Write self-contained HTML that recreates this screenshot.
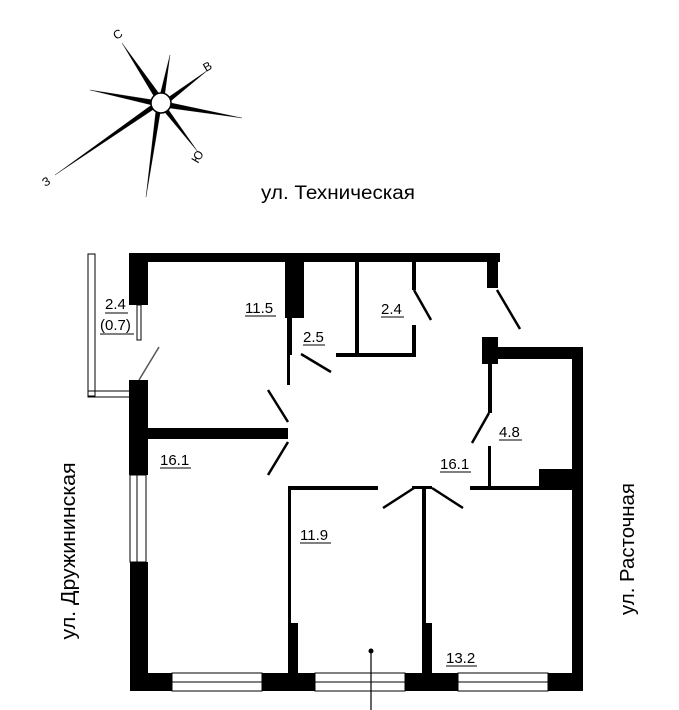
<!DOCTYPE html>
<html><head><meta charset="utf-8"><style>
html,body{margin:0;padding:0;background:#fff;}
svg{display:block;}
text{font-family:"Liberation Sans",sans-serif;fill:#000;}
</style></head><body>
<svg width="679" height="710" viewBox="0 0 679 710" xmlns="http://www.w3.org/2000/svg">
<!-- compass -->
<g fill="#000" stroke="#000" stroke-width="0.3">
<polygon points="122,43 163,99 158,103"/>
<polygon points="170,55 164,100 159,99"/>
<polygon points="208,70 163,101 166,105"/>
<polygon points="242,118 162,101 162,107"/>
<polygon points="198,152 158,104 163,102"/>
<polygon points="146,197 157,101 162,102"/>
<polygon points="55,175 157,101 160,105"/>
<polygon points="90,90 160,101 160,107"/>
</g>
<circle cx="161" cy="103" r="10" fill="#fff" stroke="#000" stroke-width="1.5"/>
<text x="116" y="40" font-size="12" transform="rotate(-30 116 40)">С</text>
<text x="206" y="72" font-size="12" transform="rotate(-30 206 72)">В</text>
<text x="198" y="164" font-size="12" transform="rotate(-60 198 164)">Ю</text>
<text x="45" y="187" font-size="12" transform="rotate(-30 45 187)">З</text>
<text x="338" y="199" font-size="19" text-anchor="middle" textLength="154" lengthAdjust="spacingAndGlyphs">ул. Техническая</text>
<text transform="translate(75 551) rotate(-90)" font-size="20" text-anchor="middle" textLength="177" lengthAdjust="spacingAndGlyphs">ул. Дружининская</text>
<text transform="translate(634 549) rotate(-90)" font-size="20" text-anchor="middle" textLength="132" lengthAdjust="spacingAndGlyphs">ул. Расточная</text>
<!-- balcony -->
<g fill="none" stroke="#000" stroke-width="1">
<rect x="88" y="254" width="7" height="142"/>
<rect x="88" y="391" width="42" height="6"/>
<rect x="137" y="305" width="4" height="35"/>
<rect x="130" y="475" width="7" height="87"/>
<rect x="137" y="475" width="9" height="87"/>
</g>
<g fill="#000">
<rect x="129" y="253" width="371" height="9"/>
<rect x="129" y="253" width="19" height="52"/>
<rect x="129" y="380" width="19" height="95"/>
<rect x="130" y="562" width="18" height="129"/>
<rect x="130" y="673" width="453" height="18"/>
<rect x="487" y="253" width="11" height="35"/>
<rect x="148" y="428" width="140" height="11"/>
<rect x="285" y="253" width="19" height="65"/>
<rect x="287" y="318" width="5" height="37"/>
<rect x="287" y="355" width="3" height="30"/>
<rect x="336" y="353" width="78" height="4"/>
<rect x="355" y="262" width="4" height="95"/>
<rect x="412" y="325" width="4" height="32"/>
<rect x="412" y="262" width="4" height="28"/>
<rect x="482" y="337" width="16" height="27"/>
<rect x="482" y="347" width="101" height="12"/>
<rect x="572" y="347" width="11" height="344"/>
<rect x="488" y="359" width="4" height="54"/>
<rect x="488" y="446" width="3" height="44"/>
<rect x="470" y="486" width="113" height="4"/>
<rect x="539" y="469" width="33" height="21"/>
<rect x="288" y="486" width="90" height="4"/>
<rect x="288" y="486" width="3" height="137"/>
<rect x="288" y="623" width="10" height="68"/>
<rect x="412" y="486" width="20" height="3"/>
<rect x="422" y="486" width="4" height="137"/>
<rect x="422" y="623" width="10" height="68"/>
</g>
<!-- windows -->
<g fill="#fff" stroke="#000" stroke-width="1">
<rect x="172" y="673" width="90" height="18"/>
<rect x="315" y="673" width="90" height="18"/>
<rect x="458" y="673" width="90" height="18"/>
</g>
<g stroke="#000" stroke-width="1">
<line x1="172" y1="682" x2="262" y2="682"/>
<line x1="315" y1="682" x2="405" y2="682"/>
<line x1="458" y1="682" x2="548" y2="682"/>
</g>
<!-- doors -->
<g stroke="#000" stroke-width="2.5" fill="none">
<line x1="301" y1="354" x2="331" y2="372"/>
<line x1="414" y1="290" x2="431" y2="320"/>
<line x1="497" y1="290" x2="520" y2="329"/>
<line x1="489" y1="413" x2="472" y2="443"/>
<line x1="414" y1="488" x2="383" y2="508"/>
<line x1="432" y1="488" x2="463" y2="508"/>
<line x1="288" y1="422" x2="268" y2="390"/>
<line x1="288" y1="442" x2="268" y2="475"/>
</g>
<line x1="139" y1="380" x2="159" y2="347" stroke="#555" stroke-width="1.5"/>
<circle cx="371" cy="651" r="2.5" fill="#000"/>
<line x1="371" y1="651" x2="371" y2="710" stroke="#000" stroke-width="1.2"/>
<!-- labels -->
<g font-size="15">
<text x="105" y="309">2.4</text><line x1="105" y1="313" x2="128" y2="313" stroke="#000"/>
<text x="100" y="330">(0.7)</text><line x1="100" y1="334" x2="134" y2="334" stroke="#000"/>
<text x="245" y="313">11.5</text><line x1="245" y1="316" x2="276" y2="316" stroke="#000"/>
<text x="303" y="342">2.5</text><line x1="303" y1="345" x2="325" y2="345" stroke="#000"/>
<text x="381" y="314">2.4</text><line x1="381" y1="317" x2="404" y2="317" stroke="#000"/>
<text x="160" y="465">16.1</text><line x1="160" y1="468" x2="191" y2="468" stroke="#000"/>
<text x="499" y="437">4.8</text><line x1="499" y1="440" x2="522" y2="440" stroke="#000"/>
<text x="440" y="469">16.1</text><line x1="440" y1="472" x2="471" y2="472" stroke="#000"/>
<text x="300" y="540">11.9</text><line x1="300" y1="543" x2="331" y2="543" stroke="#000"/>
<text x="446" y="663">13.2</text><line x1="446" y1="666" x2="477" y2="666" stroke="#000"/>
</g>
</svg>
</body></html>
